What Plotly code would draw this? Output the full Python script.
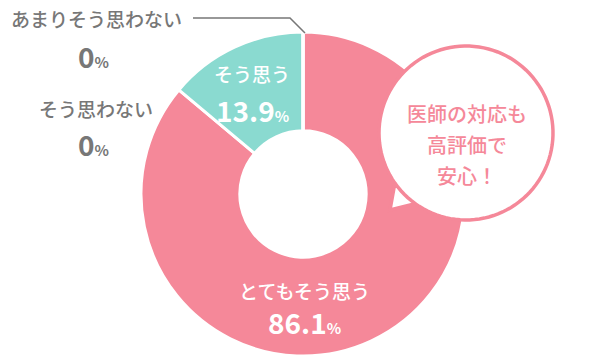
import numpy as np
import plotly.graph_objects as go

categories = ["とてもそう思う", "そう思う", "そう思わない", "あまりそう思わない"]
values = [86.1, 13.9, 0, 0]
colors = ["#F58899", "#8ADAD0", "#BBBBBB", "#DDDDDD"]
bubble_lines = ["医師の対応も", "高評価で", "安心！"]

W, H = 590, 362
PINK = "#F58899"
GRAY = "#777777"
FONT = "Noto Sans CJK JP"

# pie geometry (pixels)
cx, cy, R = 303, 194, 162

fig = go.Figure()
fig.add_trace(go.Pie(
    labels=categories, values=values, sort=False, direction="clockwise",
    rotation=0, hole=0.39, textinfo="none", hoverinfo="label+percent",
    marker=dict(colors=colors, line=dict(color="white", width=3)),
    domain=dict(x=[(cx - R) / W, (cx + R) / W], y=[1 - (cy + R) / H, 1 - (cy - R) / H]),
    showlegend=False,
))

def pct(v, big, small, color):
    return (f"<span style='font-size:{big}px;color:{color}'>{v:g}</span>"
            f"<span style='font-size:{small}px;color:{color}'>%</span>")

ann = []
# inside labels
ann.append(dict(x=304, y=290, text=categories[0], font=dict(size=19, color="white", weight=500)))
ann.append(dict(x=304, y=322, text=pct(values[0], 28, 15, "white"), font=dict(size=28, color="white", weight=600)))
ann.append(dict(x=252, y=73, text=categories[1], font=dict(size=19, color="white", weight=500)))
ann.append(dict(x=252, y=110, text=pct(values[1], 28, 15, "white"), font=dict(size=28, color="white", weight=600)))
# outside zero labels
ann.append(dict(x=96, y=18, text=categories[3], font=dict(size=19, color=GRAY, weight=500)))
ann.append(dict(x=93, y=56, text=pct(values[3], 28, 15, GRAY), font=dict(size=28, color=GRAY, weight=600)))
ann.append(dict(x=96, y=108, text=categories[2], font=dict(size=19, color=GRAY, weight=500)))
ann.append(dict(x=93, y=144, text=pct(values[2], 28, 15, GRAY), font=dict(size=28, color=GRAY, weight=600)))
# bubble text
for i, t in enumerate(bubble_lines):
    ann.append(dict(x=467, y=113 + i * 31, text=t, font=dict(size=20, color=PINK, weight=500)))

for a in ann:
    a.update(xref="x", yref="y", showarrow=False, xanchor="center", yanchor="middle")
    a["font"]["family"] = FONT

# speech bubble outline
bx, by, br = 466, 133, 87
A = np.arctan2(183 - by, 395 - bx)
B = np.arctan2(204 - by, 415 - bx)
th = np.linspace(A, B - 2 * np.pi, 120)
pts = [(bx + br * np.cos(t), by + br * np.sin(t)) for t in th]
pts.append((390, 210))
path = "M " + " L ".join(f"{x:.2f},{y:.2f}" for x, y in pts) + " Z"

shapes = [
    dict(type="path", path=path, xref="x", yref="y", fillcolor="white",
         line=dict(color=PINK, width=3.5), layer="above"),
    dict(type="path", path="M 193,18 L 290,18 L 305,33", xref="x", yref="y",
         line=dict(color=GRAY, width=1.5), layer="above"),
]

fig.update_layout(
    width=W, height=H, margin=dict(l=0, r=0, t=0, b=0),
    paper_bgcolor="white", plot_bgcolor="rgba(0,0,0,0)",
    xaxis=dict(range=[0, W], visible=False, fixedrange=True),
    yaxis=dict(range=[H, 0], visible=False, fixedrange=True),
    annotations=ann, shapes=shapes, showlegend=False,
    font=dict(family=FONT),
)
fig.write_html("out.html")
